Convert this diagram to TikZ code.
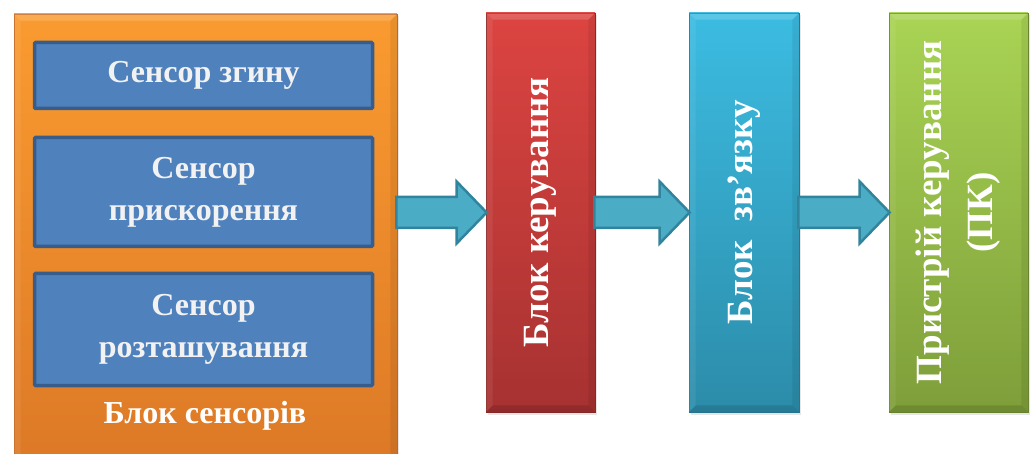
\documentclass[tikz,border=0pt]{standalone}
\usepackage{fontspec}
\setmainfont{Liberation Serif}
\usetikzlibrary{calc,shadows}
\definecolor{orTop}{HTML}{FA9B30}
\definecolor{orBot}{HTML}{DC7826}
\definecolor{orDk}{HTML}{C8691E}
\definecolor{rdTop}{HTML}{DC4441}
\definecolor{rdBot}{HTML}{A63231}
\definecolor{rdDk}{HTML}{8C2A28}
\definecolor{blTop}{HTML}{3CBCE2}
\definecolor{blBot}{HTML}{2C8CA9}
\definecolor{blDk}{HTML}{257A93}
\definecolor{grTop}{HTML}{A9D454}
\definecolor{grBot}{HTML}{7E9E3A}
\definecolor{grDk}{HTML}{6B8830}
\definecolor{inFill}{HTML}{4F81BD}
\definecolor{inDraw}{HTML}{385D8A}
\definecolor{arFill}{HTML}{4BACC6}
\definecolor{arDraw}{HTML}{31849B}
\definecolor{offwhite}{HTML}{F2F2F2}
\tikzset{
  blk/.style n args={3}{rectangle, inner sep=0pt, draw=#3, line width=0.8pt,
    top color=#1, bottom color=#2,
    drop shadow={opacity=0.2, shadow xshift=1.5pt, shadow yshift=-2.5pt}},
  inbox/.style={rectangle, inner sep=0pt, fill=inFill, draw=inDraw, line width=3.5pt, rounded corners=1pt},
  intxt/.style={text=offwhite, align=center, font=\fontsize{32}{42}\selectfont\bfseries},
  vtxt/.style={text=white, rotate=90, align=center, font=\fontsize{37}{51}\selectfont\bfseries},
  arrowsty/.style={fill=arFill, draw=arDraw, line width=2.5pt, line join=miter},
}
\newcommand\flowarrow[2]{%
  \path[arrowsty] let \p1=(#1), \p2=(#2) in
    (\x1-1pt,\y2+15.5pt) -- (\x2-29pt,\y2+15.5pt) -- (\x2-29pt,\y2+31pt) -- (\x2+1pt,\y2)
    -- (\x2-29pt,\y2-31pt) -- (\x2-29pt,\y2-15.5pt) -- (\x1-1pt,\y2-15.5pt) -- cycle;}
\newcommand\bevelbox[1]{%
  \fill[white,opacity=0.16] (#1.north west) -- (#1.north east) -- ([shift={(-7pt,-7pt)}]#1.north east) -- ([shift={(7pt,-7pt)}]#1.north west) -- cycle;
  \fill[white,opacity=0.07] (#1.north west) -- ([shift={(7pt,-7pt)}]#1.north west) -- ([shift={(7pt,7pt)}]#1.south west) -- (#1.south west) -- cycle;
  \fill[black,opacity=0.07] (#1.north east) -- ([shift={(-7pt,-7pt)}]#1.north east) -- ([shift={(-7pt,7pt)}]#1.south east) -- (#1.south east) -- cycle;
  \fill[black,opacity=0.12] (#1.south west) -- ([shift={(7pt,7pt)}]#1.south west) -- ([shift={(-7pt,7pt)}]#1.south east) -- (#1.south east) -- cycle;}
\begin{document}
\begin{tikzpicture}[x=1pt,y=-1pt]
\useasboundingbox (0,0) rectangle (1033,454);
% boxes
\node[blk={orTop}{orBot}{orDk}, minimum width=383pt, minimum height=460pt] (ob) at (205.5,244) {};
\bevelbox{ob}
\node[blk={rdTop}{rdBot}{rdDk}, minimum width=109pt, minimum height=399pt] (kb) at (540.5,212.5) {};
\bevelbox{kb}
\node[blk={blTop}{blBot}{blDk}, minimum width=110pt, minimum height=399pt] (zb) at (744,212.5) {};
\bevelbox{zb}
\node[blk={grTop}{grBot}{grDk}, minimum width=139pt, minimum height=399pt] (pb) at (958.5,212.5) {};
\bevelbox{pb}
% inner sensor boxes
\node[inbox, minimum width=338pt, minimum height=66pt] (b1) at (203.5,75.5) {};
\node[inbox, minimum width=338pt, minimum height=109pt] (b2) at (203.5,192) {};
\node[inbox, minimum width=338pt, minimum height=112pt] (b3) at (203.5,329.5) {};
\node[intxt] (t1) at (b1) {Сенсор згину};
\node[intxt] (t2) at (b2) {Сенсор\\прискорення};
\node[intxt] (t3) at (b3) {Сенсор\\розташування};
\node[text=white, font=\fontsize{32}{42}\selectfont\bfseries] (tob) at (205,416) {Блок сенсорів};
% vertical labels
\node[vtxt] (tkb) at (kb) {Блок керування};
\node[vtxt] (tzb) at (zb) {Блок\ \ зв’язку};
\node[vtxt] (tpb) at (pb) {Пристрій керування\\(ПК)};
% arrows
\flowarrow{kb.west -| ob.east}{kb.west}
\flowarrow{kb.east}{zb.west}
\flowarrow{zb.east}{pb.west}
\end{tikzpicture}
\end{document}
